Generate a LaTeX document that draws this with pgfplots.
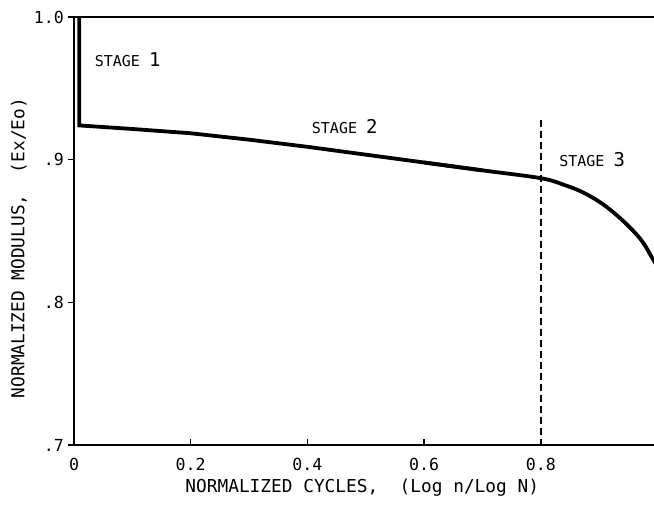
\documentclass[border=0pt]{standalone}
\usepackage{pgfplots}
\pgfplotsset{compat=1.18}
\usepackage{fontspec}
\setmonofont{DejaVu Sans Mono}
\begin{document}
\begin{tikzpicture}
\begin{axis}[
  scale only axis, width=290pt, height=214pt,
  at={(0,0)}, anchor=south west,
  xmin=0, xmax=0.994, ymin=0.7, ymax=1.0,
  axis x line=box, axis y line=left,
  x axis line style={-}, y axis line style={-},
  axis line style={line width=0.9pt, black},
  xtick={0,0.2,0.4,0.6,0.8}, xticklabels={0,0.2,0.4,0.6,0.8},
  ytick={0.7,0.8,0.9,1.0}, yticklabels={.7,.8,.9,1.0},
  xtick pos=bottom, ytick pos=left,
  tick align=inside, major tick length=3pt,
  tick style={black, line width=0.8pt},
  y tick style={xshift=-3pt},
  ticklabel style={font=\ttfamily\fontsize{8.3}{8.3}\selectfont},
  yticklabel style={xshift=-1.5pt},
  xticklabel style={yshift=-3pt},
  xlabel={NORMALIZED CYCLES,~~(Log n/Log N)},
  ylabel={NORMALIZED MODULUS,~~(Ex/Eo)},
  label style={font=\ttfamily\fontsize{8.9}{8.9}\selectfont},
  xlabel style={at={(axis description cs:0.497,-0.1)}, anchor=center},
  ylabel style={at={(axis description cs:-0.095,0.46)}, anchor=center, rotate=0},
  clip=true,
]
\addplot[black, line width=1.9pt, line join=miter] coordinates {
  (0.009,1.0) (0.009,0.924) (0.1,0.9215) (0.2,0.9185) (0.3,0.914) (0.4,0.909)
  (0.5,0.9035) (0.6,0.898) (0.7,0.8925)
};
\addplot[black, line width=1.9pt, smooth, tension=0.6] coordinates {
  (0.6,0.898) (0.7,0.8925) (0.8,0.887) (0.84,0.8823) (0.874,0.8767)
  (0.908,0.8683) (0.943,0.8563) (0.972,0.8437) (0.991,0.8311) (1.0,0.825)
};
\addplot[black, line width=0.9pt, dash pattern=on 3.5pt off 2pt] coordinates {
  (0.8,0.928) (0.8,0.7)
};
\node[font=\ttfamily\fontsize{7.5}{7.5}\selectfont] at (axis cs:0.092,0.970) {STAGE {\fontsize{9.5}{9.5}\selectfont 1}};
\node[font=\ttfamily\fontsize{7.5}{7.5}\selectfont] at (axis cs:0.464,0.923) {STAGE {\fontsize{9.5}{9.5}\selectfont 2}};
\node[font=\ttfamily\fontsize{7.5}{7.5}\selectfont] at (axis cs:0.888,0.900) {STAGE {\fontsize{9.5}{9.5}\selectfont 3}};
\end{axis}
\pgfresetboundingbox
\path (-37pt,-30.5pt) rectangle (290pt,222.5pt);
\end{tikzpicture}
\end{document}
